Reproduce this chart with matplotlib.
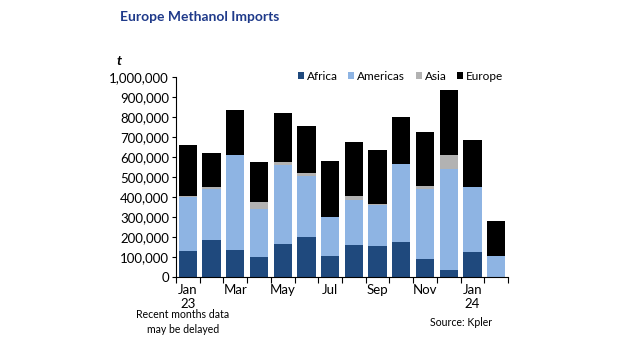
import matplotlib
matplotlib.use("Agg")
import matplotlib.pyplot as plt
import numpy as np
from matplotlib.ticker import FuncFormatter

plt.rcParams['font.family'] = ['Lato', 'DejaVu Sans']

months = ["Jan\n23", "Feb", "Mar", "Apr", "May", "Jun", "Jul", "Aug", "Sep", "Oct",
          "Nov", "Dec", "Jan\n24", "Feb"]
africa = [130000, 183000, 135000, 100000, 167000, 200000, 105000, 160000, 155000, 177000,
          88000, 33000, 123000, 0]
americas = [270000, 259000, 473000, 242000, 395000, 305000, 195000, 227000, 203000, 386000,
            354000, 507000, 327000, 105000]
asia = [4000, 8000, 4000, 33000, 13000, 17000, 2000, 18000, 5000, 4000,
        13000, 70000, 0, 0]
europe = [254000, 172000, 225000, 200000, 245000, 231000, 278000, 270000, 270000, 233000,
          270000, 323000, 233000, 175000]

series = [("Africa", africa, "#1f497d"), ("Americas", americas, "#8eb4e3"),
          ("Asia", asia, "#b2b2b2"), ("Europe", europe, "#000000")]

fig = plt.figure(figsize=(6.26, 3.4), dpi=100)
ax = fig.add_axes([176/626, 1-277/340, (508-176)/626, 200/340])

x = np.arange(len(months))
bottom = np.zeros(len(months))
for name, vals, col in series:
    ax.bar(x, vals, bottom=bottom, width=0.77, color=col, label=name, linewidth=0)
    bottom += np.array(vals)

ax.set_xlim(-0.5, len(months) - 0.5)
ax.set_ylim(0, 1000000)
ax.set_yticks(np.arange(0, 1000001, 100000))
ax.yaxis.set_major_formatter(FuncFormatter(lambda v, p: f"{int(v):,}"))
ax.set_xticks(np.arange(-0.5, len(months)), minor=False)
ax.set_xticklabels([])
ax.set_xticks(x[::2], minor=True)
ax.set_xticklabels([months[i] for i in range(0, len(months), 2)], minor=True)
ax.tick_params(axis='x', which='major', length=4, direction='out', width=0.8)
ax.tick_params(axis='x', which='minor', length=0, pad=5, labelsize=9.5)
ax.tick_params(axis='y', length=3, direction='out', width=0.8, labelsize=9.5, pad=2)

for s in ['top', 'right']:
    ax.spines[s].set_visible(False)
for s in ['left', 'bottom']:
    ax.spines[s].set_linewidth(0.8)

ax.legend(loc='upper right', ncol=4, frameon=False, fontsize=8.5, handlelength=0.5,
          handleheight=0.5, handletextpad=0.25, columnspacing=0.9,
          bbox_to_anchor=(1.0, 1.055), borderaxespad=0)

fig.text(120/626, 1-17/340, "Europe Methanol Imports", fontsize=10, fontweight='bold',
         color="#1f3a8a", va='center', ha='left')
fig.text(117/626, 1-61/340, "t", fontsize=10, fontweight='bold', style='italic',
         va='center', ha='left')
fig.text(183/626, 1-322/340, "Recent months data\nmay be delayed", fontsize=7.6,
         ha='center', va='center', linespacing=1.4)
fig.text(461/626, 1-322/340, "Source: Kpler", fontsize=7.6, ha='center', va='center')

fig.savefig("out.png", dpi=100)
